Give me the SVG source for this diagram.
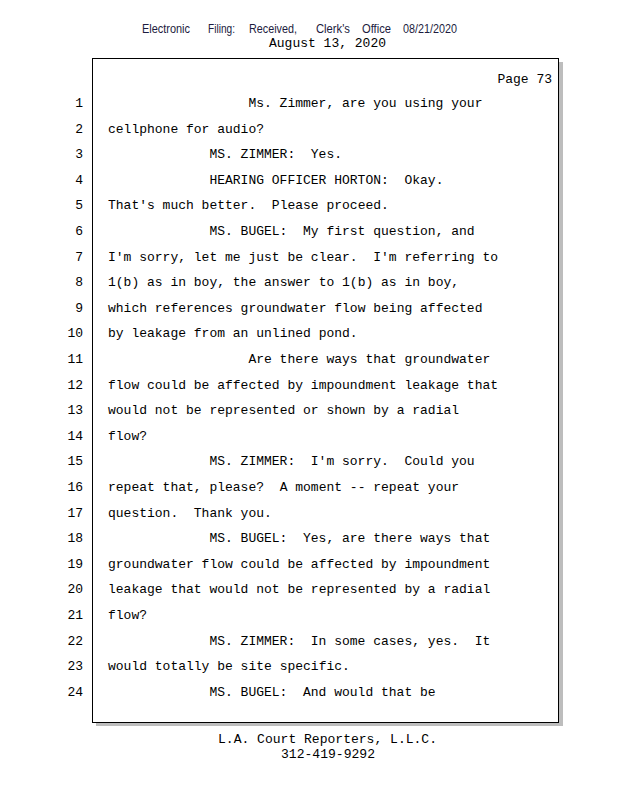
<svg xmlns="http://www.w3.org/2000/svg" width="618" height="800" viewBox="0 0 618 800">
<style>
.hdr{font-family:"Liberation Sans",Arial,sans-serif;font-size:13px;fill:#1c1c40}
.m{font-family:"Liberation Mono","Courier New",monospace;font-size:13px;fill:#000;white-space:pre}
.n{font-family:"Liberation Mono","Courier New",monospace;font-size:13px;fill:#000;text-anchor:end}
.f{font-family:"Liberation Mono","Courier New",monospace;font-size:12px;fill:#000;text-anchor:middle}
.c{text-anchor:middle}
</style>
<rect width="618" height="800" fill="#fff"/>
<g id="header">
<text class="hdr" x="142" y="33" textLength="48" lengthAdjust="spacingAndGlyphs">Electronic</text>
<text class="hdr" x="208" y="33" textLength="27" lengthAdjust="spacingAndGlyphs">Filing:</text>
<text class="hdr" x="249" y="33" textLength="48" lengthAdjust="spacingAndGlyphs">Received,</text>
<text class="hdr" x="316" y="33" textLength="34" lengthAdjust="spacingAndGlyphs">Clerk's</text>
<text class="hdr" x="362" y="33" textLength="29" lengthAdjust="spacingAndGlyphs">Office</text>
<text class="hdr" x="403" y="33" textLength="54" lengthAdjust="spacingAndGlyphs">08/21/2020</text>
<text class="m c" x="327.5" y="47">August 13, 2020</text>
</g>
<g id="page">
<rect x="96" y="62" width="467" height="664" fill="#bdbdbd"/>
<rect x="92.5" y="58.5" width="466" height="664" fill="#fff" stroke="#000" stroke-width="1"/>
<text class="m" x="552" y="83" text-anchor="end">Page 73</text>
</g>
<g id="numbers">
<text class="n" x="83" y="107">1</text>
<text class="n" x="83" y="132.6">2</text>
<text class="n" x="83" y="158.2">3</text>
<text class="n" x="83" y="183.8">4</text>
<text class="n" x="83" y="209.4">5</text>
<text class="n" x="83" y="235">6</text>
<text class="n" x="83" y="260.6">7</text>
<text class="n" x="83" y="286.2">8</text>
<text class="n" x="83" y="311.8">9</text>
<text class="n" x="83" y="337.4">10</text>
<text class="n" x="83" y="363">11</text>
<text class="n" x="83" y="388.6">12</text>
<text class="n" x="83" y="414.2">13</text>
<text class="n" x="83" y="439.8">14</text>
<text class="n" x="83" y="465.4">15</text>
<text class="n" x="83" y="491">16</text>
<text class="n" x="83" y="516.6">17</text>
<text class="n" x="83" y="542.2">18</text>
<text class="n" x="83" y="567.8">19</text>
<text class="n" x="83" y="593.4">20</text>
<text class="n" x="83" y="619">21</text>
<text class="n" x="83" y="644.6">22</text>
<text class="n" x="83" y="670.2">23</text>
<text class="n" x="83" y="695.8">24</text>
</g>
<g id="lines" xml:space="preserve">
<text class="m" x="248.4" y="107">Ms. Zimmer, are you using your</text>
<text class="m" x="108" y="132.6">cellphone for audio?</text>
<text class="m" x="209.4" y="158.2">MS. ZIMMER:  Yes.</text>
<text class="m" x="209.4" y="183.8">HEARING OFFICER HORTON:  Okay.</text>
<text class="m" x="108" y="209.4">That's much better.  Please proceed.</text>
<text class="m" x="209.4" y="235">MS. BUGEL:  My first question, and</text>
<text class="m" x="108" y="260.6">I'm sorry, let me just be clear.  I'm referring to</text>
<text class="m" x="108" y="286.2">1(b) as in boy, the answer to 1(b) as in boy,</text>
<text class="m" x="108" y="311.8">which references groundwater flow being affected</text>
<text class="m" x="108" y="337.4">by leakage from an unlined pond.</text>
<text class="m" x="248.4" y="363">Are there ways that groundwater</text>
<text class="m" x="108" y="388.6">flow could be affected by impoundment leakage that</text>
<text class="m" x="108" y="414.2">would not be represented or shown by a radial</text>
<text class="m" x="108" y="439.8">flow?</text>
<text class="m" x="209.4" y="465.4">MS. ZIMMER:  I'm sorry.  Could you</text>
<text class="m" x="108" y="491">repeat that, please?  A moment -- repeat your</text>
<text class="m" x="108" y="516.6">question.  Thank you.</text>
<text class="m" x="209.4" y="542.2">MS. BUGEL:  Yes, are there ways that</text>
<text class="m" x="108" y="567.8">groundwater flow could be affected by impoundment</text>
<text class="m" x="108" y="593.4">leakage that would not be represented by a radial</text>
<text class="m" x="108" y="619">flow?</text>
<text class="m" x="209.4" y="644.6">MS. ZIMMER:  In some cases, yes.  It</text>
<text class="m" x="108" y="670.2">would totally be site specific.</text>
<text class="m" x="209.4" y="695.8">MS. BUGEL:  And would that be</text>
</g>
<g id="footer">
<text class="f" x="327.5" y="743" textLength="219" lengthAdjust="spacingAndGlyphs">L.A. Court Reporters, L.L.C.</text>
<text class="f" x="328" y="757.5" textLength="94" lengthAdjust="spacingAndGlyphs">312-419-9292</text>
</g>
</svg>
